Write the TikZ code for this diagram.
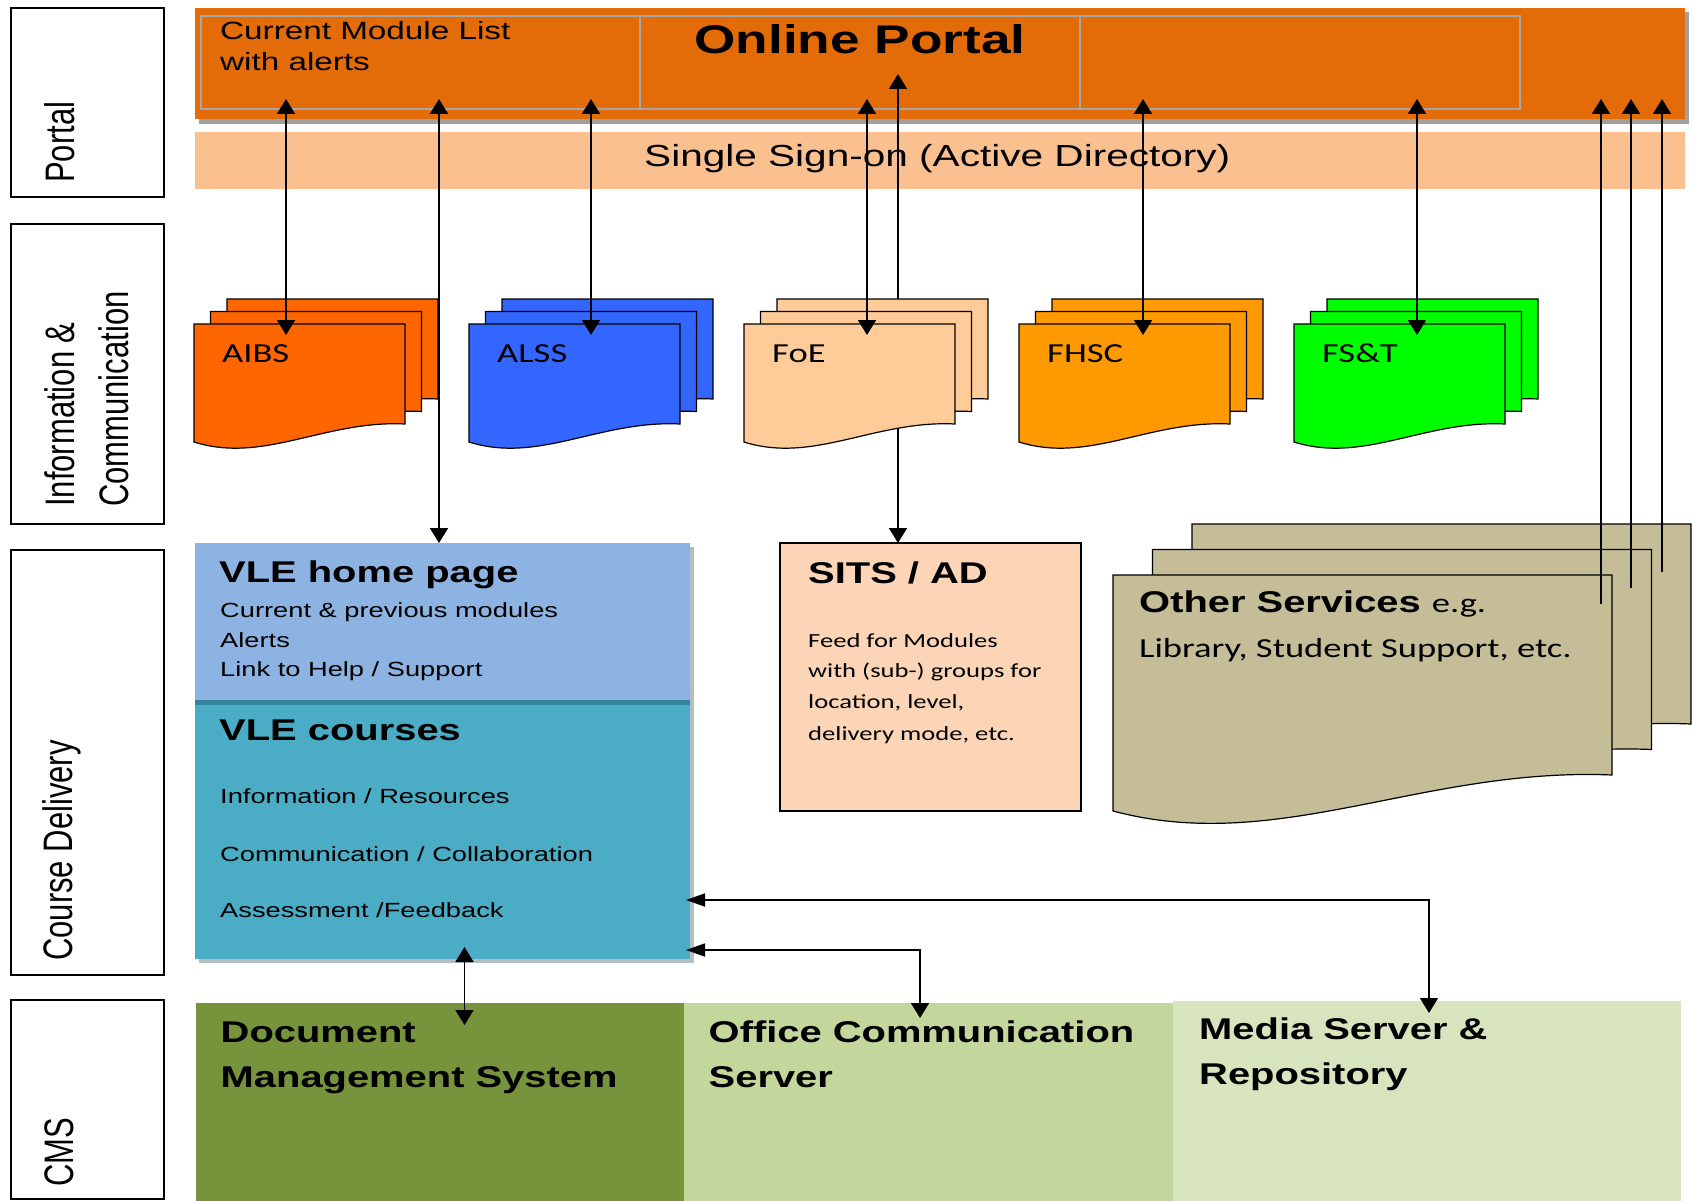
\documentclass[tikz,border=0pt]{standalone}
\usepackage{graphicx}
\usepackage{fontspec}
\setmainfont{Liberation Sans}
\newfontfamily\arfont{Liberation Sans}[FakeStretch=1.33]
\newfontfamily\clfont{Carlito}[FakeStretch=1.33]
\usetikzlibrary{arrows.meta}
\definecolor{portalorange}{HTML}{E36C09}
\definecolor{ssocol}{HTML}{FAC090}
\definecolor{aibscol}{HTML}{FF6600}
\definecolor{alsscol}{HTML}{3366FF}
\definecolor{foecol}{HTML}{FFCC99}
\definecolor{fhsccol}{HTML}{FF9900}
\definecolor{fstcol}{HTML}{00FF00}
\definecolor{othercol}{HTML}{C4BD97}
\definecolor{vlehome}{HTML}{8DB3E2}
\definecolor{vlesep}{HTML}{31849B}
\definecolor{vlecourse}{HTML}{4BACC6}
\definecolor{sitscol}{HTML}{FBD5B5}
\definecolor{dmscol}{HTML}{77933C}
\definecolor{ocscol}{HTML}{C3D69B}
\definecolor{mediacol}{HTML}{D7E4BD}
\definecolor{gridgray}{HTML}{A6A6A6}
\definecolor{shadowgray}{HTML}{A0A0A0}
\definecolor{vleshadow}{HTML}{B4BEC2}

% document page: x, y (top-left), w, h (right side height), colour
\newcommand\docpage[5]{%
  \filldraw[fill=#5, draw=black, line width=1.2pt]
    ({#1},{#2}) -- ({#1+#3},{#2}) -- ({#1+#3},{#2+#4})
    .. controls ({#1+0.62*#3},{#2+0.96*#4}) and ({#1+0.33*#3},{#2+1.40*#4}) ..
    ({#1},{#2+1.18*#4}) -- cycle;}
% stack of three pages: x, y (front top-left), w, h, dx, dy, colour
\newcommand\docstack[7]{%
  \docpage{#1+2*#5}{#2-2*#6}{#3}{#4}{#7}%
  \docpage{#1+#5}{#2-#6}{#3}{#4}{#7}%
  \docpage{#1}{#2}{#3}{#4}{#7}}

\begin{document}
\begin{tikzpicture}[x=1pt,y=-1pt,
  labelbox/.style={draw=black, line width=1.5pt, fill=white},
  sidetext/.style={rotate=90, anchor=base west, inner sep=0pt},
  txt/.style={anchor=base west, inner sep=0pt},
  biarrow/.style={line width=1.8pt, {Triangle[length=15pt,width=18pt]}-{Triangle[length=15pt,width=18pt]}},
  onearrow/.style={line width=1.8pt, -{Triangle[length=15pt,width=18pt]}},
  harrow/.style={line width=1.8pt, {Triangle[length=19pt,width=13pt]}-{Triangle[length=15pt,width=18pt]}}]
\useasboundingbox (0,0) rectangle (1692,1201);
\fill[white] (0,0) rectangle (1692,1201);

% ---- left column label boxes
\draw[labelbox] (11,8) rectangle (164,197);
\draw[labelbox] (11,224) rectangle (164,524);
\draw[labelbox] (11,550) rectangle (164,975);
\draw[labelbox] (11,1000) rectangle (164,1199);
\newcommand\sidelbl[1]{\scalebox{1}[1.33]{\fontsize{31}{31}\selectfont #1}}
\node[sidetext] (lportal) at (74.5,183) {\sidelbl{Portal}};
\node[sidetext] (linfo) at (74,507) {\sidelbl{Information \&}};
\node[sidetext] (lcomm) at (128,507) {\sidelbl{Communication}};
\node[sidetext] (lcourse) at (72,961) {\sidelbl{Course Delivery}};
\node[sidetext] (lcms) at (73,1187) {\sidelbl{CMS}};

% ---- portal bar
\fill[shadowgray] (199,12) rectangle (1689,124);
\fill[portalorange] (195,8) rectangle (1685,119);
\draw[gridgray, line width=1.2pt] (201,16) rectangle (1520,109);
\draw[gridgray, line width=1.2pt] (640,16) -- (640,109);
\draw[gridgray, line width=1.2pt] (1080,16) -- (1080,109);
\node[txt] (cml) at (220,40) {\arfont\fontsize{25}{25}\selectfont Current Module List};
\node[txt] (cml2) at (220,70.5) {\arfont\fontsize{25}{25}\selectfont with alerts};
\node[anchor=base, inner sep=0pt] (portal) at (860,53.5) {\arfont\bfseries\fontsize{40}{40}\selectfont Online Portal};

% ---- single sign-on band
\fill[ssocol] (195,132) rectangle (1685,189);
\node[txt] (sso) at (644,167) {\arfont\fontsize{30.5}{30.5}\selectfont Single Sign-on (Active Directory)};

% ---- endpoint coordinates
\coordinate (pA) at (286,99);   \coordinate (dA) at (286,335);
\coordinate (pV) at (439,99);   \coordinate (vleTop) at (439,543);
\coordinate (pL) at (591,99);   \coordinate (dL) at (591,335);
\coordinate (pF) at (867,99);   \coordinate (dF) at (867,335);
\coordinate (pS) at (898,74);    \coordinate (sitsTop) at (898,543);
\coordinate (pH) at (1143,99);  \coordinate (dH) at (1143,335);
\coordinate (pT) at (1417,99);  \coordinate (dT) at (1417,335);
\coordinate (pO1) at (1601,99); \coordinate (o1) at (1601,604);
\coordinate (pO2) at (1631,99); \coordinate (o2) at (1631,588);
\coordinate (pO3) at (1662,99); \coordinate (o3) at (1662,572);

% SITS <-> portal line passes behind the FoE pages
\draw[biarrow] (pS) -- (sitsTop);

% ---- faculty document stacks
\docstack{194}{324}{211}{100}{16.5}{12.5}{aibscol}
\docstack{469}{324}{211}{100}{16.5}{12.5}{alsscol}
\docstack{744}{324}{211}{100}{16.5}{12.5}{foecol}
\docstack{1019}{324}{211}{100}{16.5}{12.5}{fhsccol}
\docstack{1294}{324}{211}{100}{16.5}{12.5}{fstcol}
\node[txt] (aibs) at (222,362) {\clfont\fontsize{27.5}{27.5}\selectfont AIBS};
\node[txt] (alss) at (497,362) {\clfont\fontsize{27.5}{27.5}\selectfont ALSS};
\node[txt] (foe) at (772,362) {\clfont\fontsize{27.5}{27.5}\selectfont FoE};
\node[txt] (fhsc) at (1047,362) {\clfont\fontsize{27.5}{27.5}\selectfont FHSC};
\node[txt] (fst) at (1322,362) {\clfont\fontsize{27.5}{27.5}\selectfont FS\&T};

% ---- other services stack
\docstack{1113}{575}{499}{200}{39.5}{25.5}{othercol}
\node[txt] (other) at (1139,612) {\arfont\bfseries\fontsize{30}{30}\selectfont Other Services \clfont\mdseries\fontsize{27.5}{27.5}\selectfont e.g.};
\node[txt] (other2) at (1139,657) {\clfont\fontsize{27.5}{27.5}\selectfont Library, Student Support, etc.};

% ---- VLE box
\fill[vleshadow] (199,547) rectangle (694,963);
\fill[vlehome] (195,543) rectangle (690,700);
\fill[vlesep] (195,700) rectangle (690,705);
\fill[vlecourse] (195,705) rectangle (690,959);
\node[txt] (vlehp) at (219,582) {\arfont\bfseries\fontsize{30}{30}\selectfont VLE home page};
\node[txt] (vl1) at (220,617) {\arfont\fontsize{20.5}{20.5}\selectfont Current \& previous modules};
\node[txt] (vl2) at (220,647) {\arfont\fontsize{20.5}{20.5}\selectfont Alerts};
\node[txt] (vl3) at (220,676) {\arfont\fontsize{20.5}{20.5}\selectfont Link to Help / Support};
\node[txt] (vlec) at (219,740) {\arfont\bfseries\fontsize{30}{30}\selectfont VLE courses};
\node[txt] (vc1) at (220,803) {\arfont\fontsize{20.5}{20.5}\selectfont Information / Resources};
\node[txt] (vc2) at (220,861) {\arfont\fontsize{20.5}{20.5}\selectfont Communication / Collaboration};
\node[txt] (vc3) at (220,917) {\arfont\fontsize{20.5}{20.5}\selectfont Assessment /Feedback};

% ---- SITS box
\filldraw[fill=sitscol, draw=black, line width=1.2pt] (780,543) rectangle (1081,811);
\node[txt] (sits) at (808,583) {\arfont\bfseries\fontsize{30}{30}\selectfont SITS / AD};
\node[txt] (s1) at (808,647) {\clfont\fontsize{20}{20}\selectfont Feed for Modules};
\node[txt] (s2) at (808,677.5) {\clfont\fontsize{20}{20}\selectfont with (sub-) groups for};
\node[txt] (s3) at (808,708.5) {\clfont\fontsize{20}{20}\selectfont location, level,};
\node[txt] (s4) at (808,740) {\clfont\fontsize{20}{20}\selectfont delivery mode, etc.};

% ---- CMS boxes
\fill[dmscol] (196,1003) rectangle (684,1201);
\fill[ocscol] (684,1003) rectangle (1173,1201);
\fill[mediacol] (1173,1001) rectangle (1681,1201);
\node[txt] (dms) at (220.5,1042) {\arfont\bfseries\fontsize{30}{30}\selectfont Document};
\node[txt] (dms2) at (220.5,1087) {\arfont\bfseries\fontsize{30}{30}\selectfont Management System};
\node[txt] (ocs) at (708.5,1042) {\arfont\bfseries\fontsize{30}{30}\selectfont Office Communication};
\node[txt] (ocs2) at (708.5,1087) {\arfont\bfseries\fontsize{30}{30}\selectfont Server};
\node[txt] (media) at (1199,1039) {\arfont\bfseries\fontsize{30}{30}\selectfont Media Server \&};
\node[txt] (media2) at (1199,1084) {\arfont\bfseries\fontsize{30}{30}\selectfont Repository};

\coordinate (vleA) at (686,900); \coordinate (mediaTop) at (1429,1013);
\coordinate (vleB) at (686,950); \coordinate (ocsTop) at (920,1018);
\coordinate (vleBot) at (464.5,947); \coordinate (dmsTop) at (464.5,1025);

% ---- connectors
\draw[biarrow] (pA) -- (dA);
\draw[biarrow] (pV) -- (vleTop);
\draw[biarrow] (pL) -- (dL);
\draw[biarrow] (pF) -- (dF);
\draw[biarrow] (pH) -- (dH);
\draw[biarrow] (pT) -- (dT);
\draw[onearrow] (o1) -- (pO1);
\draw[onearrow] (o2) -- (pO2);
\draw[onearrow] (o3) -- (pO3);
\draw[harrow] (vleA) -| (mediaTop);
\draw[harrow] (vleB) -| (ocsTop);
\draw[biarrow] (vleBot) -- (dmsTop);
\end{tikzpicture}
\end{document}
